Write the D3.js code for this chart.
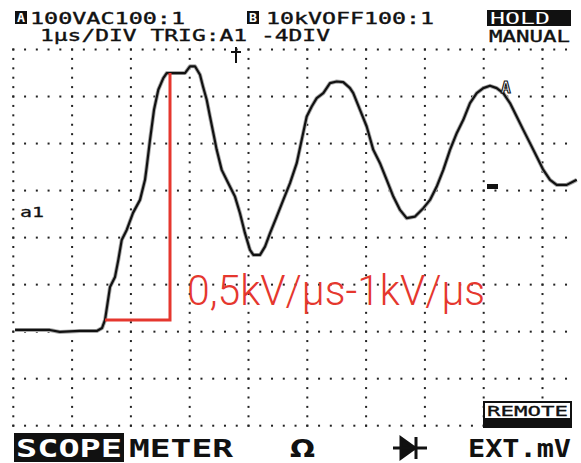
<!DOCTYPE html>
<html><head><meta charset="utf-8">
<script src="https://cdn.jsdelivr.net/npm/d3@7"></script>
<style>html,body{margin:0;padding:0;background:#fff;}svg{display:block;}</style>
</head><body>
<script>
// ---- data (time in µs at 1µs/DIV, level in divisions above bottom grid line) ----
const timeUs = [0.03,0.62,0.79,1.13,1.42,1.51,1.56,1.645,1.73,1.786,1.844,1.929,2.036,2.155,2.24,2.269,2.325,2.393,2.466,2.551,2.609,2.92,3.005,3.09,3.175,3.226,3.289,3.345,3.401,3.459,3.544,3.656,3.77,3.855,3.94,4.025,4.082,4.196,4.281,4.366,4.48,4.592,4.706,4.82,4.905,4.99,5.075,5.16,5.272,5.386,5.5,5.612,5.726,5.782,5.896,6.01,6.122,6.236,6.35,6.463,6.577,6.69,6.832,6.973,7.087,7.201,7.313,7.427,7.541,7.653,7.767,7.881,7.993,8.107,8.221,8.333,8.447,8.561,8.673,8.787,8.901,9.014,9.128,9.241,9.412,9.524,9.582];
const levelDiv = [2.036,2.036,1.994,2.015,2.015,2.079,2.249,2.951,3.164,3.526,3.951,4.164,4.526,4.802,5.228,5.504,6.079,6.717,7.143,7.391,7.498,7.498,7.643,7.643,7.462,7.213,6.93,6.574,6.228,5.866,5.44,5.157,4.872,4.519,4.094,3.738,3.632,3.632,3.809,4.094,4.447,4.802,5.157,5.583,6.079,6.574,6.787,6.966,7.072,7.285,7.319,7.306,7.179,7.072,6.717,6.362,5.866,5.583,5.228,4.872,4.589,4.413,4.447,4.626,4.802,5.085,5.44,5.866,6.221,6.504,6.86,7.072,7.179,7.228,7.179,7.072,6.86,6.574,6.291,6.009,5.723,5.44,5.228,5.121,5.121,5.191,5.228];
// rise annotation: start (time, level), end time and top level
const slopeTime = [1.56, 2.665];
const slopeLevel = [2.249, 7.498];
const headerTexts = ["100VAC100:1", "10kVOFF100:1", "1µs/DIV TRIG:A1 -4DIV", "HOLD", "MANUAL"];
const softKeys = ["SCOPE", "METER", "Ω", "", "EXT.mV"];
const annotation = "0,5kV/µs-1kV/µs";

const W = 581, H = 463;
const svg = d3.select("body").append("svg").attr("width", W).attr("height", H);
const x = d3.scaleLinear().domain([0, 10]).range([13.3, 601.3]);
const y = d3.scaleLinear().domain([0, 8]).range([425.7, 49.5]);
const ink = "#111";

// ---- dotted grid ----
const g = svg.append("g");
const hDots = [];
for (let r = 0; r <= 8; r++) for (let c = 0; c <= 47; c++) hDots.push([c * 0.2, r]);
const vDots = [];
for (let c = 0; c <= 9; c++) for (let r = 0; r <= 40; r++) vDots.push([c, r * 0.2]);
g.selectAll("rect.h").data(hDots).join("rect").attr("class", "h")
  .attr("x", d => x(d[0]) - 1).attr("y", d => y(d[1]) - 1).attr("width", 2).attr("height", 2).attr("fill", "#222");
g.selectAll("rect.v").data(vDots).join("rect").attr("class", "v")
  .attr("x", d => x(d[0]) - 1).attr("y", d => y(d[1]) - 1).attr("width", 2).attr("height", 2).attr("fill", "#222");

// ---- trace ----
const pts = timeUs.map((t, i) => [t, levelDiv[i]]);
const line = d3.line().x(d => x(d[0])).y(d => y(d[1]));
svg.append("path").attr("d", line(pts)).attr("fill", "none").attr("stroke", "#aaa").attr("stroke-width", 4).attr("stroke-linejoin", "round");
svg.append("path").attr("d", line(pts)).attr("fill", "none").attr("stroke", ink).attr("stroke-width", 2.2).attr("stroke-linejoin", "round");

// ---- red annotation ----
const red = "#e5372e";
svg.append("path")
  .attr("d", `M${x(slopeTime[0])},${y(slopeLevel[0])}H${x(slopeTime[1])}V${y(slopeLevel[1])}`)
  .attr("fill", "none").attr("stroke", red).attr("stroke-width", 3);
svg.append("text").attr("x", 187).attr("y", 305).attr("fill", red)
  .attr("font-family", "Roboto, sans-serif").attr("font-weight", 300).attr("font-size", 42)
  .attr("textLength", 298).attr("lengthAdjust", "spacingAndGlyphs").text(annotation);

// ---- header ----
const mono = "'DejaVu Sans Mono', monospace";
function lcdText(tx, ty, str, len, fill, size, weight) {
  return svg.append("text").attr("x", tx).attr("y", ty).attr("fill", fill || ink)
    .attr("font-family", mono).attr("font-size", size || 15).attr("font-weight", weight || "normal")
    .attr("textLength", len).attr("lengthAdjust", "spacingAndGlyphs").text(str);
}
function boxLetter(bx, by, ch) {
  svg.append("rect").attr("x", bx).attr("y", by).attr("width", 12).attr("height", 13).attr("fill", ink);
  lcdText(bx + 2, by + 11, ch, 8, "#fff", 12, "bold");
}
boxLetter(15, 11, "A");
lcdText(30, 23.5, headerTexts[0], 155).attr("stroke", ink).attr("stroke-width", 0.35);
boxLetter(247, 11, "B");
lcdText(266, 23.5, headerTexts[1], 168).attr("stroke", ink).attr("stroke-width", 0.35);
lcdText(40, 40.5, headerTexts[2], 290).attr("stroke", ink).attr("stroke-width", 0.35);
svg.append("rect").attr("x", 487).attr("y", 10).attr("width", 84).attr("height", 16).attr("fill", ink);
lcdText(490, 23.5, headerTexts[3], 60, "#fff");
lcdText(489, 41.5, headerTexts[4], 81).attr("stroke", ink).attr("stroke-width", 0.35);

// trigger marker
svg.append("path").attr("d", "M236,47V63M231,52H241").attr("stroke", ink).attr("stroke-width", 2).attr("fill", "none");
// channel marker a1
lcdText(20, 217, "a1", 24, ink, 14).attr("stroke", ink).attr("stroke-width", 0.3);
// cursor marker A
svg.append("text").attr("x", 501).attr("y", 93).attr("fill", "#fff").attr("stroke", ink).attr("stroke-width", 1.1)
  .attr("font-family", mono).attr("font-size", 16).attr("font-weight", "bold").text("A");
// small block marker
svg.append("rect").attr("x", 487).attr("y", 184).attr("width", 11).attr("height", 5).attr("fill", ink);

// ---- REMOTE box ----
svg.append("rect").attr("x", 483).attr("y", 401).attr("width", 89).attr("height", 27).attr("fill", ink);
svg.append("rect").attr("x", 485).attr("y", 403).attr("width", 85).attr("height", 15).attr("fill", "#fff");
lcdText(487, 416, "REMOTE", 81, ink, 14).attr("stroke", ink).attr("stroke-width", 0.3);

// ---- soft keys ----
svg.append("rect").attr("x", 14).attr("y", 433).attr("width", 110).attr("height", 29).attr("fill", ink);
lcdText(16, 457, softKeys[0], 106, "#fff", 25, "bold");
lcdText(129, 457, softKeys[1], 104, ink, 25, "bold");
svg.append("text").attr("x", 290).attr("y", 457).attr("fill", ink).attr("font-family", "'DejaVu Sans', sans-serif")
  .attr("font-size", 25).attr("font-weight", "bold").attr("textLength", 25).attr("lengthAdjust", "spacingAndGlyphs").text(softKeys[2]);
// diode symbol
svg.append("path").attr("d", "M393,448H427M401,438L415,448L401,458Z M416,437V459").attr("stroke", ink).attr("stroke-width", 3).attr("fill", ink);
lcdText(468, 457, softKeys[4], 103, ink, 25, "bold");
</script>
</body></html>
